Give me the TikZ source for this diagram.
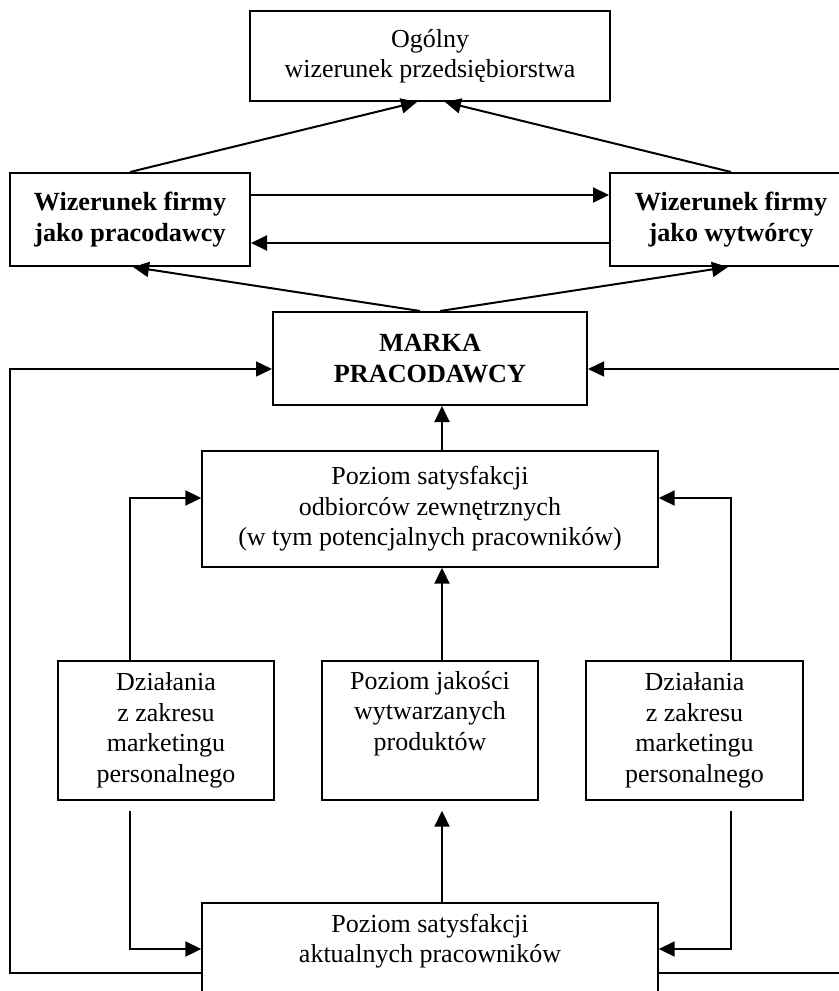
\documentclass[tikz,border=0pt]{standalone}
\usepackage{fontspec}
\setmainfont{Liberation Serif}
\usetikzlibrary{arrows.meta,calc}
\tikzset{
  box/.style={draw, line width=0.7pt, align=center, inner sep=0pt,
    font=\fontsize{13}{15.25}\selectfont},
  boxb/.style={box, line width=1pt, font=\fontsize{13.1}{15.5}\selectfont\bfseries},
  arr/.style={-{Triangle[length=8pt,width=7.5pt]}, line width=1pt},
  fb/.style={-{Triangle[length=8pt,width=7.5pt]}, line width=0.7pt},
}
\begin{document}
\begin{tikzpicture}[x=0.5pt,y=-0.5pt]
\useasboundingbox (0,0) rectangle (839,991);
\clip (0,0) rectangle (839,991);
% boxes
\node[box, line width=1pt, minimum width=180pt, minimum height=45pt] (ogolny) at (430,56)
  {Ogólny\\wizerunek przedsiębiorstwa};
\node[boxb, minimum width=120pt, minimum height=46.5pt] (pracod) at (130,219.5)
  {Wizerunek firmy\\jako pracodawcy};
\node[boxb, minimum width=121pt, minimum height=46.5pt] (wytw) at (731,219.5)
  {Wizerunek firmy\\jako wytwórcy};
\node[boxb, minimum width=157pt, minimum height=46.5pt] (marka) at (430,358.5)
  {MARKA\\PRACODAWCY};
\node[box, minimum width=228pt, minimum height=58pt] (odb) at (430,509)
  {Poziom satysfakcji\\odbiorców zewnętrznych\\(w tym potencjalnych pracowników)};
\node[box, minimum width=108pt, minimum height=69.5pt] (dzL) at (166,730.5)
  {Działania\\z zakresu\\marketingu\\personalnego};
\node[box, minimum width=108pt, minimum height=69.5pt] (jak) at (430,730.5)
  {Poziom jakości\\wytwarzanych\\produktów\\\strut};
\node[box, minimum width=108.5pt, minimum height=69.5pt] (dzR) at (694.5,730.5)
  {Działania\\z zakresu\\marketingu\\personalnego};
\node[box, minimum width=228pt, minimum height=55pt] (akt) at (430,958)
  {Poziom satysfakcji\\aktualnych pracowników\\\strut};
% helper coordinates for the outer feedback loops
\coordinate (lx) at (10,700);
\coordinate (rx) at (850,700);
% top level
\draw[arr] (pracod.north) -- ($(ogolny.south)+(-13,0)$);
\draw[arr] (wytw.north) -- ($(ogolny.south)+(15,0)$);
\draw[arr] ($(pracod.east)+(0,-24.5)$) -- ($(wytw.west)+(0,-24.5)$);
\draw[arr] ($(wytw.west)+(0,23.5)$) -- ($(pracod.east)+(0,23.5)$);
\draw[arr] ($(marka.north)+(-10,0)$) -- ($(pracod.south)+(3,0)$);
\draw[arr] ($(marka.north)+(10,0)$) -- ($(wytw.south)+(-3,0)$);
% middle
\draw[arr] ($(odb.north)+(12,0)$) -- ($(marka.south)+(12,0)$);
\draw[arr] ($(jak.north)+(12,0)$) -- ($(odb.south)+(12,0)$);
\draw[arr] ($(dzL.north)+(-36,0)$) |- ($(odb.west)+(0,-11)$);
\draw[arr] ($(dzR.north)+(36.5,0)$) |- ($(odb.east)+(0,-11)$);
% bottom
\draw[arr] ($(akt.north)+(12,0)$) -- ($(jak.south)+(12,10)$);
\draw[arr] ($(dzL.south)+(-36,10)$) |- ($(akt.west)+(0,-9)$);
\draw[arr] ($(dzR.south)+(36.5,10)$) |- ($(akt.east)+(0,-9)$);
% feedback loops
\draw[fb] ($(akt.west)+(0,15)$) -| (lx) |- ($(marka.west)+(0,10.5)$);
\draw[fb] ($(akt.east)+(0,15)$) -| (rx) |- ($(marka.east)+(0,10.5)$);
\end{tikzpicture}
\end{document}
